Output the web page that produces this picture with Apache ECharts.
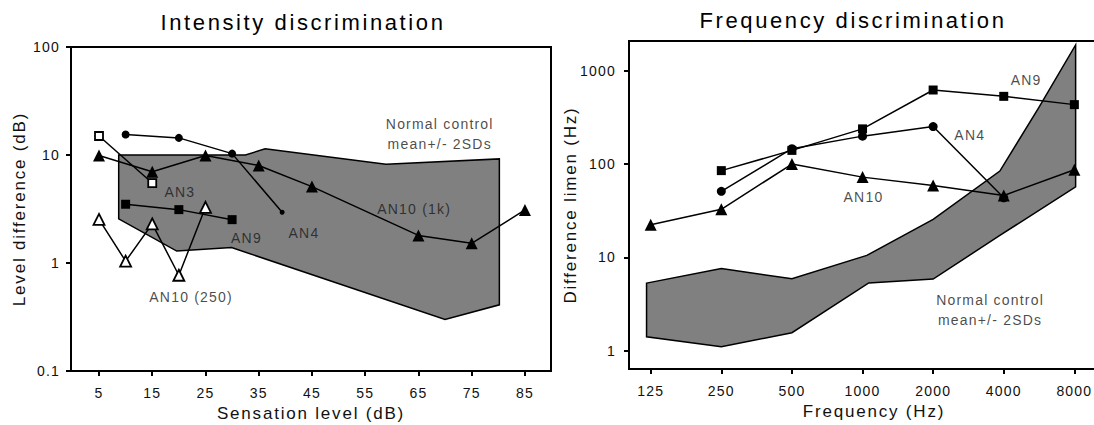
<!DOCTYPE html>
<html>
<head>
<meta charset="utf-8">
<script src="https://cdn.jsdelivr.net/npm/echarts@6/dist/echarts.min.js"></script>
<style>
    html, body { margin: 0; padding: 0; background: #fff; }
    #main { width: 1094px; height: 425px; }
    svg text { letter-spacing: 1.2px; }
    svg text[style*="22px"] { letter-spacing: 2.6px; }
    svg text[style*="17px"] { letter-spacing: 1.8px; }
</style>
</head>
<body>
<div id="main"></div>
<script>
"use strict"
const fontName = 'Liberation Sans, Arial, sans-serif';

// 强度辨别 (left panel): sensation level (dB) -> level difference (dB)
let slTicks = [5, 15, 25, 35, 45, 55, 65, 75, 85];
let ldTicks = [0.1, 1, 10, 100];
let an3SL = [5, 15];
let an3LD = [15.0, 5.5];
let an4SL = [10, 20, 30, 39.4];
let an4LD = [15.5, 14.4, 10.3, 2.95];
let an10kSL = [5, 15, 25, 35, 45, 65, 75, 85];
let an10kLD = [9.9, 7.0, 9.9, 8.0, 5.1, 1.8, 1.52, 3.1];
let an9SL = [10, 20, 30];
let an9LD = [3.5, 3.12, 2.52];
let an250SL = [5, 10, 15, 20, 25];
let an250LD = [2.53, 1.04, 2.3, 0.77, 3.28];
let normUpSL = [8.7, 32.5, 36.2, 58.9, 80.2];
let normUpLD = [10, 10, 11.4, 8.2, 9.2];
let normLoSL = [8.7, 19.6, 29.9, 70, 80.2];
let normLoLD = [2.56, 1.29, 1.39, 0.30, 0.41];

// 频率辨别 (right panel): frequency (Hz) -> difference limen (Hz)
let freqTicks = [125, 250, 500, 1000, 2000, 4000, 8000];
let dlTicks = [1, 10, 100, 1000];
let an9F = [250, 500, 1000, 2000, 4000, 8000];
let an9DL = [85, 140, 238, 621, 531, 433];
let an4F = [250, 500, 1000, 2000, 4000];
let an4DL = [51, 146, 199, 252, 43.5];
let an10F = [125, 250, 500, 1000, 2000, 4000, 8000];
let an10DL = [22.4, 32.7, 100, 72.4, 59, 46, 86.7];
let normUpF = [120, 250, 500, 1043, 2000, 3850, 5650, 8100];
let normUpDL = [5.3, 7.6, 5.9, 10.5, 25.5, 84, 405, 1885];
let normLoF = [120, 250, 500, 1063, 2000, 3850, 8100];
let normLoDL = [1.41, 1.1, 1.56, 5.33, 5.85, 17.2, 57];

function pairs(xs, ys) {
    return xs.map(function (x, i) { return [x, ys[i]]; });
}

function tickText(v) {
    return String(+Number(v).toPrecision(6));
}

//正常对照区域 polygon
function bandSeries(idx, upX, upY, loX, loY) {
    return {
        type: 'custom', xAxisIndex: idx, yAxisIndex: idx, z: 1, silent: true,
        data: [[upX[0], upY[0]]],
        renderItem: function (params, api) {
            let pts = upX.map(function (x, i) { return api.coord([x, upY[i]]); });
            for (let i = loX.length - 1; i >= 0; i--) {
                pts.push(api.coord([loX[i], loY[i]]));
            }
            return {
                type: 'polygon', shape: { points: pts },
                style: { fill: '#808080', stroke: '#000', lineWidth: 1.5 }
            };
        }
    };
}

function lineSeries(idx, xs, ys, symbol, size, open) {
    return {
        type: 'line', xAxisIndex: idx, yAxisIndex: idx, z: 3,
        data: pairs(xs, ys),
        symbol: symbol, symbolSize: size, showAllSymbol: true,
        lineStyle: { color: '#000', width: 1.5 },
        itemStyle: open ? { color: '#fff', borderColor: '#000', borderWidth: 1.8 }
                        : { color: '#000', borderWidth: 0 }
    };
}

function noteSeries(idx, notes) {
    return {
        type: 'scatter', xAxisIndex: idx, yAxisIndex: idx, z: 4, silent: true,
        symbolSize: 0,
        data: notes,
        label: {
            show: true, position: 'inside', color: '#1a1a1a',
            fontSize: 14, fontFamily: fontName, lineHeight: 20,
            formatter: function (p) { return p.name; }
        }
    };
}

function axisCommon(ticks, margin) {
    return {
        axisLine: { show: true, onZero: false, lineStyle: { color: '#000', width: 2 } },
        axisTick: { show: true, customValues: ticks, length: 5, lineStyle: { color: '#000', width: 2 } },
        axisLabel: { customValues: ticks, margin: margin, fontSize: 14, color: '#111',
                     fontFamily: fontName, formatter: tickText },
        splitLine: { show: false },
        nameTextStyle: { fontSize: 17, color: '#111', fontFamily: fontName },
        nameLocation: 'middle'
    };
}

let chart = echarts.init(document.getElementById('main'), null, { renderer: 'svg' });

let xLeft = Object.assign(axisCommon(slTicks, 15), {
    type: 'value', gridIndex: 0, min: -0.26, max: 89.9,
    name: 'Sensation level (dB)', nameGap: 29
});
let yLeft = Object.assign(axisCommon(ldTicks, 11), {
    type: 'log', gridIndex: 0, min: 0.1, max: 100,
    name: 'Level difference (dB)', nameGap: 43
});
// 右图横轴: 以2为底的对数轴
let xRight = Object.assign(axisCommon(freqTicks, 15), {
    type: 'log', logBase: 2, gridIndex: 1, min: 101, max: 12400,
    name: 'Frequency (Hz)', nameGap: 29
});
let yRight = Object.assign(axisCommon(dlTicks, 13), {
    type: 'log', gridIndex: 1, min: 0.637, max: 2080,
    name: 'Difference limen (Hz)', nameGap: 50
});

let an4Left = lineSeries(0, an4SL, an4LD, 'circle', 8, false);
an4Left.symbolSize = function (v, p) { return p.dataIndex === 3 ? 5 : 8; };

chart.setOption({
    animation: false,
    backgroundColor: '#fff',
    textStyle: { fontFamily: fontName },
    title: [
        { text: 'Intensity discrimination', left: 303, top: 11, textAlign: 'center', padding: 0,
          textStyle: { fontSize: 22, fontWeight: 'normal', color: '#000', fontFamily: fontName } },
        { text: 'Frequency discrimination', left: 853, top: 9, textAlign: 'center', padding: 0,
          textStyle: { fontSize: 22, fontWeight: 'normal', color: '#000', fontFamily: fontName } }
    ],
    // 右图的框延伸到画布之外, 不让 grid 自动收缩
    grid: [
        { left: 71, top: 47, width: 480, height: 324, show: true, borderColor: '#000', borderWidth: 2,
          outerBoundsMode: 'none' },
        { left: 629, top: 41, width: 490, height: 328, show: true, borderColor: '#000', borderWidth: 2,
          outerBoundsMode: 'none' }
    ],
    xAxis: [xLeft, xRight],
    yAxis: [yLeft, yRight],
    series: [
        bandSeries(0, normUpSL, normUpLD, normLoSL, normLoLD),
        lineSeries(0, an3SL, an3LD, 'rect', 8, true),
        an4Left,
        lineSeries(0, an10kSL, an10kLD, 'triangle', 12, false),
        lineSeries(0, an9SL, an9LD, 'rect', 9, false),
        lineSeries(0, an250SL, an250LD, 'triangle', 11, true),
        noteSeries(0, [
            { name: 'AN3', value: [20.2, 4.5] },
            { name: 'AN9', value: [32.7, 1.69] },
            { name: 'AN4', value: [43.5, 1.88] },
            { name: 'AN10 (250)', value: [22.3, 0.48] },
            { name: 'AN10 (1k)', value: [64.2, 3.16] },
            { name: 'Normal control\nmean+/- 2SDs', value: [69, 15.8] }
        ]),
        bandSeries(1, normUpF, normUpDL, normLoF, normLoDL),
        lineSeries(1, an9F, an9DL, 'rect', 9, false),
        lineSeries(1, an4F, an4DL, 'circle', 9, false),
        lineSeries(1, an10F, an10DL, 'triangle', 12, false),
        noteSeries(1, [
            { name: 'AN9', value: [4980, 795] },
            { name: 'AN4', value: [2866, 205] },
            { name: 'AN10', value: [1009, 44.7] },
            { name: 'Normal control\nmean+/- 2SDs', value: [3497, 2.75] }
        ])
    ]
});
</script>
</body>
</html>
